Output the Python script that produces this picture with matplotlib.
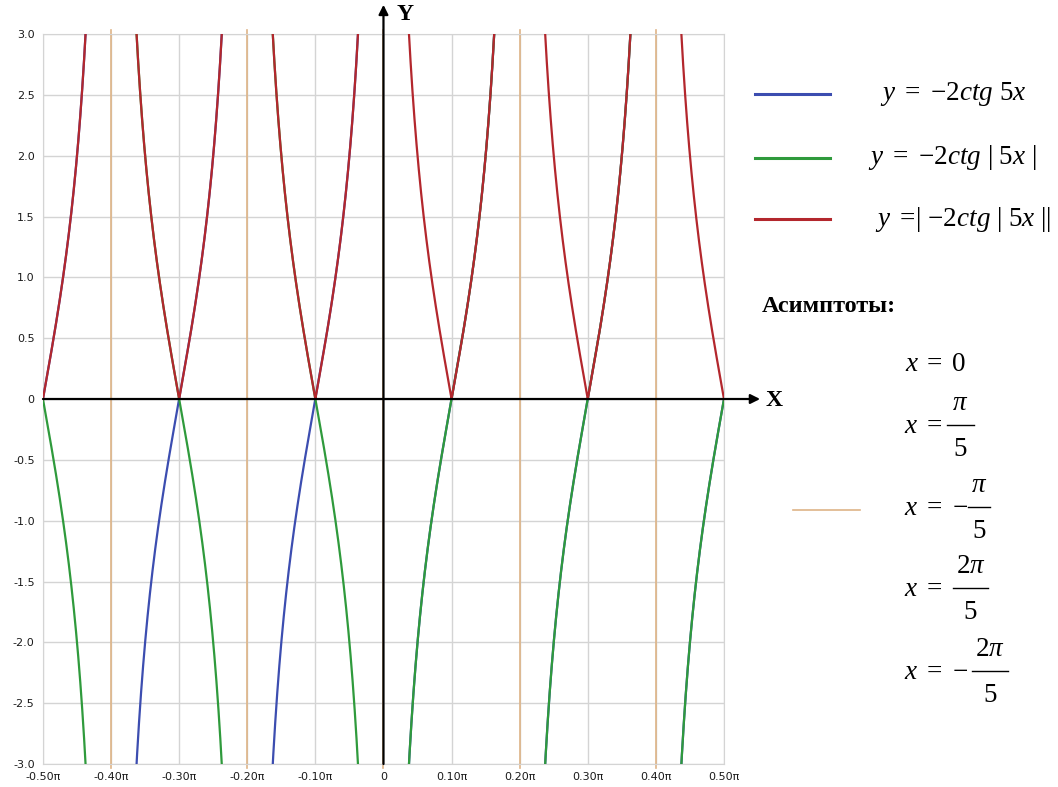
import numpy as np
import matplotlib.pyplot as plt

plt.rcParams['mathtext.fontset'] = 'custom'
plt.rcParams['mathtext.rm'] = 'Liberation Serif'
plt.rcParams['mathtext.it'] = 'Liberation Serif:italic'
plt.rcParams['mathtext.bf'] = 'Liberation Serif:bold'

# y = -2 ctg(5x) family on [-pi/2, pi/2]
coef = -2.0
freq = 5.0
x_min, x_max = -0.5 * np.pi, 0.5 * np.pi
asymptotes = [-0.4 * np.pi, -0.2 * np.pi, 0.0, 0.2 * np.pi, 0.4 * np.pi]

xtick_vals = [-0.5, -0.4, -0.3, -0.2, -0.1, 0.0, 0.1, 0.2, 0.3, 0.4, 0.5]
xtick_labels = ['-0.50π', '-0.40π', '-0.30π', '-0.20π', '-0.10π', '0',
                '0.10π', '0.20π', '0.30π', '0.40π', '0.50π']
ytick_vals = [-3.0, -2.5, -2.0, -1.5, -1.0, -0.5, 0.0, 0.5, 1.0, 1.5, 2.0, 2.5, 3.0]
ytick_labels = ['-3.0', '-2.5', '-2.0', '-1.5', '-1.0', '-0.5', '0',
                '0.5', '1.0', '1.5', '2.0', '2.5', '3.0']

c_blue = '#3c4db0'
c_green = '#2f9a3c'
c_red = '#b3272d'
c_asym = '#deb487'
c_grid = '#d4d4d4'

fig = plt.figure(figsize=(10.58, 7.87), dpi=100)
ax = fig.add_axes([0.0406, 0.0292, 0.6437, 0.9276])

edges = [x_min] + asymptotes + [x_max]
for a, b in zip(edges[:-1], edges[1:]):
    xs = np.linspace(a, b, 800)
    if a != x_min:
        xs = xs[1:]
    if b != x_max:
        xs = xs[:-1]
    blue = coef / np.tan(freq * xs)
    green = coef / np.tan(freq * np.abs(xs))
    red = np.abs(green)
    ax.plot(xs, blue, color=c_blue, lw=1.6, zorder=3)
    ax.plot(xs, green, color=c_green, lw=1.6, zorder=4)
    ax.plot(xs, red, color=c_red, lw=1.6, zorder=5)

for xa in asymptotes:
    ax.axvline(xa, ymin=-0.005, ymax=1.005, color=c_asym, lw=1.2, zorder=2, clip_on=False)

ax.set_xlim(x_min, x_max)
ax.set_ylim(-3, 3)
ax.set_xticks([v * np.pi for v in xtick_vals])
ax.set_xticklabels(xtick_labels)
ax.set_yticks(ytick_vals)
ax.set_yticklabels(ytick_labels)
ax.tick_params(length=0, labelsize=8, colors='#1a1a1a', pad=6)
ax.grid(True, color=c_grid, lw=1, zorder=0)
ax.set_axisbelow(True)
for s in ax.spines.values():
    s.set_color(c_grid)

# axes with arrows
ax.annotate('', xy=(1.053, 0), xytext=(0, 0), xycoords=('axes fraction', 'data'),
            textcoords=('axes fraction', 'data'),
            arrowprops=dict(arrowstyle='-|>', color='black', lw=1.6, mutation_scale=14,
                            shrinkA=0, shrinkB=0), zorder=6)
ax.annotate('', xy=(0, 1.04), xytext=(0, 0), xycoords=('data', 'axes fraction'),
            textcoords=('data', 'axes fraction'),
            arrowprops=dict(arrowstyle='-|>', color='black', lw=1.6, mutation_scale=14,
                            shrinkA=0, shrinkB=0), zorder=6)
fig.text(766 / 1058, 1 - 400 / 787, 'X', fontsize=17, fontweight='bold',
         family='Liberation Serif', va='center', ha='left')
fig.text(397 / 1058, 1 - 15 / 787, 'Y', fontsize=17, fontweight='bold',
         family='Liberation Serif', va='center', ha='left')

def px(x, y):
    return x / 1058, 1 - y / 787

def hline(x0, x1, y, col, lw):
    fig.add_artist(plt.Line2D([x0 / 1058, x1 / 1058], [1 - y / 787] * 2,
                              color=col, lw=lw, transform=fig.transFigure))

# legend
legend_items = [
    (c_blue, 94, 880, r'$y\ =\ {-}2ctg\ 5x$'),
    (c_green, 158, 868, r'$y\ =\ {-}2ctg\ |\ 5x\ |$'),
    (c_red, 219, 875, r'$y\ =\!|\ {-}2ctg\ |\ 5x\ ||$'),
]
for col, yy, tx, txt in legend_items:
    hline(755, 830, yy, col, 2.2)
    fig.text(*px(tx, yy), txt, fontsize=19.5, va='center', ha='left')

fig.text(*px(762, 306), 'Асимптоты:', fontsize=17.5, fontweight='bold',
         family='Liberation Serif', va='center', ha='left')

fig.text(*px(905, 364), r'$x\;=\;0$', fontsize=19.5, va='center', ha='left')

# fractions: (bar y, left text, bar x0, bar x1, numerator)
fractions = [
    (425, r'$x\ =$', 947, 974, r'$\pi$'),
    (507, r'$x\ =\ {-}$', 968, 990, r'$\pi$'),
    (588, r'$x\ =$', 953, 988, r'$2\pi$'),
    (671, r'$x\ =\ {-}$', 972, 1008, r'$2\pi$'),
]
for by, left, bx0, bx1, num in fractions:
    fig.text(*px(904, by + 1), left, fontsize=19.5, va='center', ha='left')
    hline(bx0, bx1, by, 'black', 1.0)
    cx = (bx0 + bx1) / 2
    fig.text(*px(cx, by - 22), num, fontsize=19.5, va='center', ha='center')
    fig.text(*px(cx, by + 24), r'$5$', fontsize=19.5, va='center', ha='center')

hline(793, 860, 510, c_asym, 1.2)

fig.savefig('out.png', dpi=100)
